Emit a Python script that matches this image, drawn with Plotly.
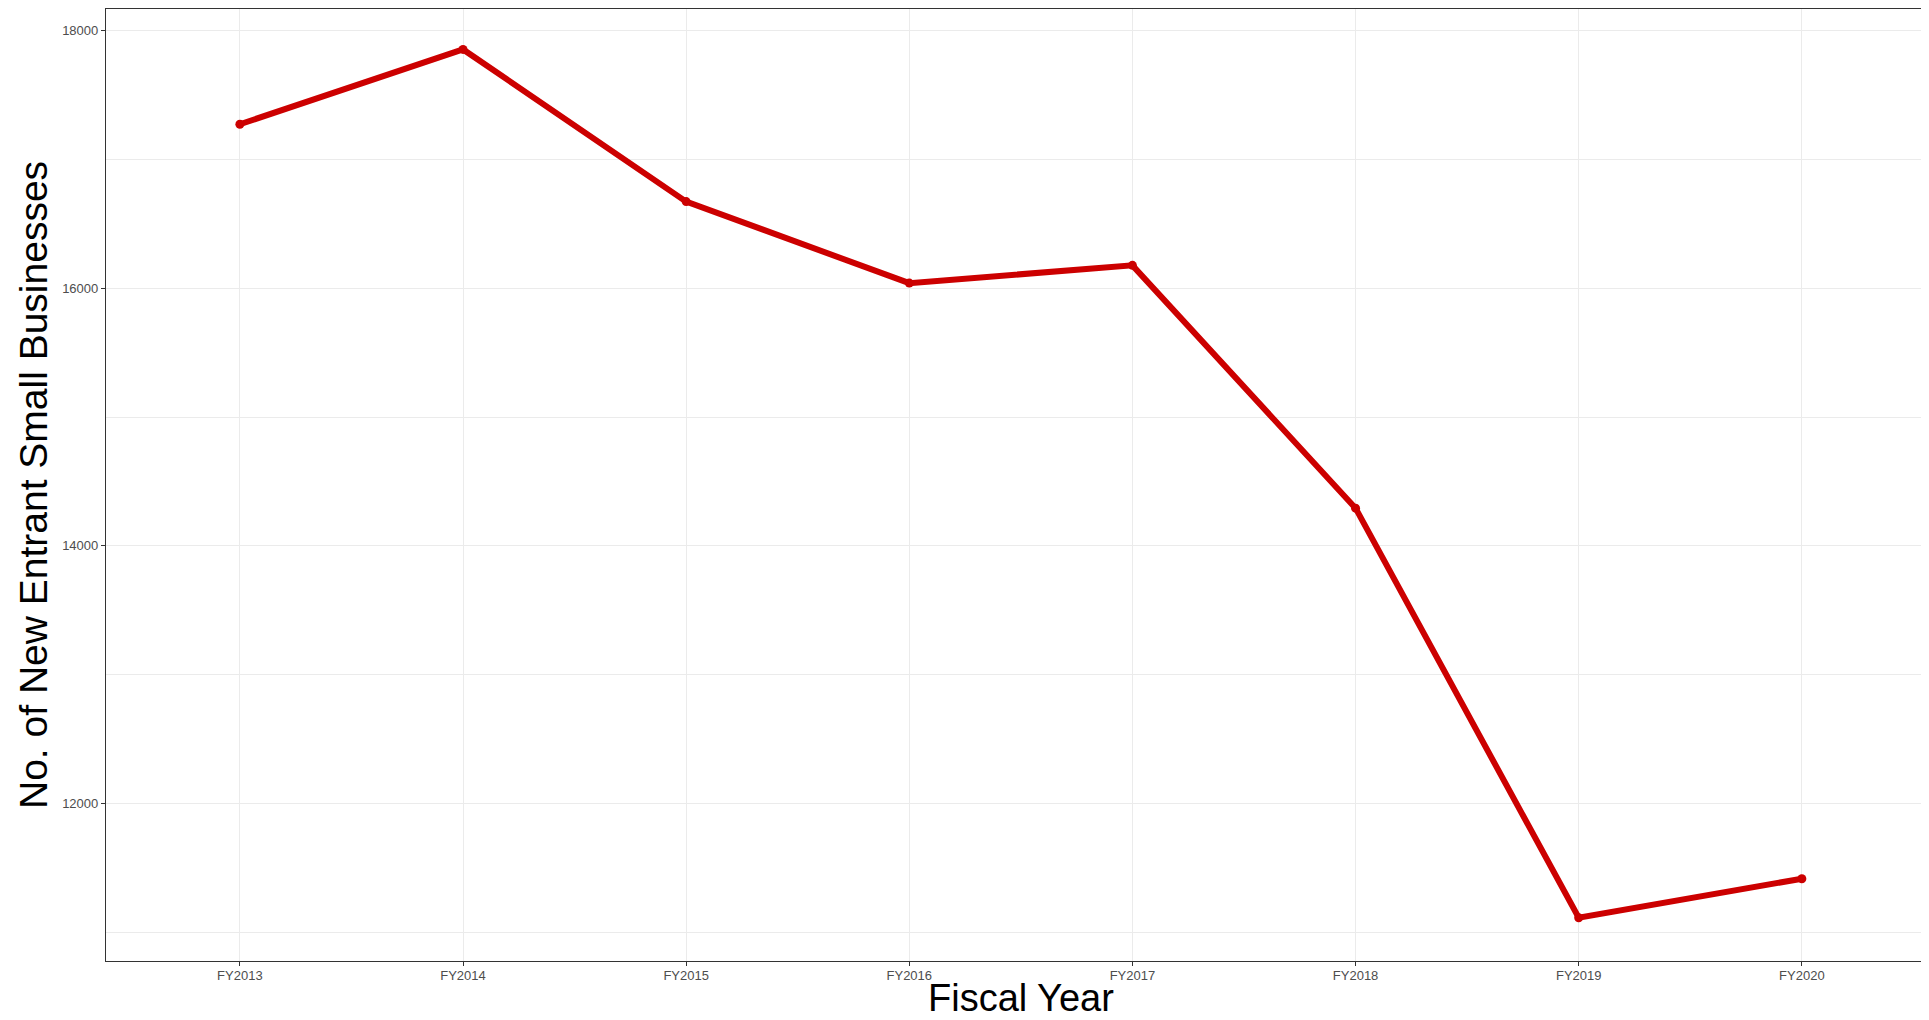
import plotly.graph_objects as go

fiscal_years = ["FY2013", "FY2014", "FY2015", "FY2016", "FY2017", "FY2018", "FY2019", "FY2020"]
new_entrants = [17274, 17855, 16673, 16040, 16178, 14292, 11111, 11414]
y_ticks = [12000, 14000, 16000, 18000]
y_minor = [11000, 13000, 15000, 17000]
x_title = "Fiscal Year"
y_title = "No. of New Entrant Small Businesses"

x_idx = list(range(len(fiscal_years)))

fig = go.Figure()
fig.add_trace(go.Scatter(
    x=x_idx, y=new_entrants, mode="lines+markers",
    line=dict(color="#CC0000", width=6),
    marker=dict(color="#CC0000", size=9),
    showlegend=False,
))

fig.update_layout(
    width=1913, height=1012,
    margin=dict(l=98, r=0, t=1, b=59),
    paper_bgcolor="white", plot_bgcolor="white",
    font=dict(family="Liberation Sans, Arial, sans-serif"),
)
fig.update_xaxes(
    range=[-0.6, 7.534],
    tickmode="array", tickvals=x_idx, ticktext=fiscal_years,
    tickfont=dict(size=13, color="#4D4D4D"),
    ticks="outside", ticklen=4, tickcolor="#333333", tickwidth=1,
    ticklabelstandoff=-2,
    showline=True, linecolor="#333333", linewidth=1.2, mirror=True,
    showgrid=True, gridcolor="#EBEBEB", gridwidth=1,
    zeroline=False, automargin=False,
)
fig.update_yaxes(
    range=[10775, 18169],
    tickmode="array", tickvals=y_ticks, ticktext=[str(v) for v in y_ticks],
    tickfont=dict(size=13, color="#4D4D4D"),
    ticks="outside", ticklen=4, tickcolor="#333333", tickwidth=1,
    showline=True, linecolor="#333333", linewidth=1.2, mirror=False,
    showgrid=True, gridcolor="#EBEBEB", gridwidth=1,
    minor=dict(tickvals=y_minor, showgrid=True,
               gridcolor="#EBEBEB", gridwidth=0.6, ticks=""),
    zeroline=False, automargin=False,
)

fig.add_annotation(
    text=x_title, xref="paper", yref="paper", x=0.5041, y=0,
    xanchor="center", yanchor="middle", yshift=-37,
    showarrow=False, font=dict(size=38, color="black"),
)
fig.add_annotation(
    text=y_title, xref="paper", yref="paper", x=0, y=0.5,
    xanchor="center", yanchor="middle", xshift=-73, textangle=-90,
    showarrow=False, font=dict(size=39, color="black"),
)

fig.write_html("out.html")
